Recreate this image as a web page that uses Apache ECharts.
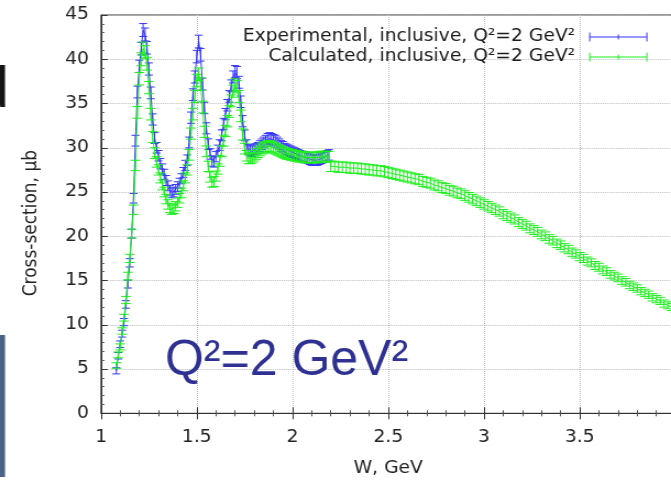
<!DOCTYPE html>
<html>
<head>
<meta charset="utf-8">
<script src="https://cdn.jsdelivr.net/npm/echarts@6/dist/echarts.min.js"></script>
<style>
  html, body { margin: 0; padding: 0; background: #fff; overflow: hidden; }
  /* the plot is drawn 10% narrower and widened horizontally, as on the slide */
  #chart { width: 610px; height: 480px; transform: scaleX(1.1); transform-origin: 0 0; }
</style>
</head>
<body>
<div id="chart"></div>
<script>
// W grid of the resonance region (GeV)
const wRes = [
  1.08, 1.09,
  1.10, 1.11, 1.12, 1.13, 1.14, 1.15, 1.16, 1.17, 1.18, 1.19,
  1.20, 1.21, 1.22, 1.23, 1.24, 1.25, 1.26, 1.27, 1.28, 1.29,
  1.30, 1.31, 1.32, 1.33, 1.34, 1.35, 1.36, 1.37, 1.38, 1.39,
  1.40, 1.41, 1.42, 1.43, 1.44, 1.45, 1.46, 1.47, 1.48, 1.49,
  1.50, 1.51, 1.52, 1.53, 1.54, 1.55, 1.56, 1.57, 1.58, 1.59,
  1.60, 1.61, 1.62, 1.63, 1.64, 1.65, 1.66, 1.67, 1.68, 1.69,
  1.70, 1.71, 1.72, 1.73, 1.74, 1.75, 1.76, 1.77, 1.78, 1.79,
  1.80, 1.81, 1.82, 1.83, 1.84, 1.85, 1.86, 1.87, 1.88, 1.89,
  1.90, 1.91, 1.92, 1.93, 1.94, 1.95, 1.96, 1.97, 1.98, 1.99,
  2.00, 2.01, 2.02, 2.03, 2.04, 2.05, 2.06, 2.07, 2.08, 2.09,
  2.10, 2.11, 2.12, 2.13, 2.14, 2.15, 2.16, 2.17, 2.18, 2.19
];

// Experimental inclusive cross-section, Q^2 = 2 GeV^2 (microbarn)
const expRes = [
  4.8, 6.5,
  7.8, 9.0, 10.3, 12.3, 14.6, 17.0, 20.3, 24.3, 30.8, 36.3,
  39.2, 41.2, 43.3, 42.8, 41.3, 38.9, 36.2, 33.2, 31.1, 30.0,
  29.1, 28.2, 27.6, 27.0, 26.3, 25.7, 25.2, 24.9, 25.0, 25.3,
  25.6, 26.0, 26.5, 27.2, 28.0, 28.6, 30.6, 33.4, 36.0, 38.0,
  40.3, 42.0, 40.5, 37.2, 34.5, 32.2, 30.4, 29.3, 28.5, 28.4,
  29.0, 29.7, 30.3, 31.4, 32.7, 33.8, 34.8, 35.8, 37.0, 38.0,
  38.6, 38.5, 37.4, 35.2, 33.0, 31.4, 30.3, 29.8, 29.7, 29.6,
  29.8, 29.9, 30.0, 30.2, 30.4, 30.6, 30.8, 31.0, 31.1, 31.0,
  30.9, 30.8, 30.6, 30.4, 30.2, 30.1, 29.9, 29.8, 29.7, 29.6,
  29.5, 29.4, 29.3, 29.2, 29.1, 29.0, 29.0, 28.9, 28.8, 28.7,
  28.6, 28.6, 28.6, 28.6, 28.7, 28.8, 28.9, 29.0, 29.1, 29.2
];

// Calculated inclusive cross-section in the resonance region (microbarn)
const calcRes = [
  5.4, 6.6,
  7.5, 9.3, 10.8, 12.8, 15.5, 17.5, 20.3, 23.0, 28.0, 34.0,
  37.8, 40.0, 41.2, 40.8, 39.5, 36.8, 33.8, 31.2, 29.4, 28.4,
  27.5, 26.6, 25.8, 25.0, 24.2, 23.6, 23.2, 23.0, 23.1, 23.4,
  23.8, 24.3, 24.9, 25.7, 26.6, 27.5, 29.2, 31.6, 33.8, 35.8,
  37.6, 38.3, 37.2, 34.6, 31.8, 29.6, 27.9, 26.7, 26.1, 26.2,
  26.8, 27.6, 28.5, 29.6, 30.8, 31.9, 33.0, 34.1, 35.3, 36.4,
  37.1, 36.9, 35.8, 33.6, 31.5, 29.9, 29.1, 28.8, 28.8, 28.9,
  29.1, 29.3, 29.5, 29.7, 29.9, 30.0, 30.1, 30.2, 30.2, 30.1,
  30.0, 29.9, 29.8, 29.7, 29.6, 29.5, 29.4, 29.3, 29.3, 29.2,
  29.2, 29.1, 29.1, 29.0, 29.0, 29.0, 28.9, 28.9, 28.9, 28.9,
  28.9, 28.9, 28.9, 28.9, 29.0, 29.0, 29.0, 29.0, 29.0, 29.0
];

// W grid above the resonance region (GeV)
const wTail = [
  2.20, 2.22, 2.24, 2.26, 2.28, 2.30, 2.32, 2.34, 2.36, 2.38,
  2.40, 2.42, 2.44, 2.46, 2.48, 2.50, 2.52, 2.54, 2.56, 2.58,
  2.60, 2.62, 2.64, 2.66, 2.68, 2.70, 2.72, 2.74, 2.76, 2.78,
  2.80, 2.82, 2.84, 2.86, 2.88, 2.90, 2.92, 2.94, 2.96, 2.98,
  3.00, 3.02, 3.04, 3.06, 3.08, 3.10, 3.12, 3.14, 3.16, 3.18,
  3.20, 3.22, 3.24, 3.26, 3.28, 3.30, 3.32, 3.34, 3.36, 3.38,
  3.40, 3.42, 3.44, 3.46, 3.48, 3.50, 3.52, 3.54, 3.56, 3.58,
  3.60, 3.62, 3.64, 3.66, 3.68, 3.70, 3.72, 3.74, 3.76, 3.78,
  3.80, 3.82, 3.84, 3.86, 3.88, 3.90, 3.92, 3.94, 3.96, 3.98,
  4.00
];

// Calculated inclusive cross-section above the resonances (microbarn)
const calcTail = [
  27.9, 27.9, 27.8, 27.8, 27.8, 27.7, 27.7, 27.7, 27.6, 27.6,
  27.5, 27.5, 27.4, 27.4, 27.3, 27.2, 27.1, 27.0, 26.9, 26.8,
  26.7, 26.6, 26.5, 26.4, 26.2, 26.1, 26.0, 25.8, 25.7, 25.5,
  25.4, 25.2, 25.1, 24.9, 24.8, 24.6, 24.4, 24.2, 24.0, 23.8,
  23.6, 23.4, 23.2, 23.0, 22.8, 22.5, 22.3, 22.1, 21.9, 21.6,
  21.4, 21.2, 20.9, 20.7, 20.5, 20.2, 20.0, 19.7, 19.5, 19.2,
  19.0, 18.7, 18.5, 18.2, 18.0, 17.7, 17.5, 17.2, 17.0, 16.7,
  16.5, 16.2, 16.0, 15.7, 15.5, 15.3, 15.0, 14.8, 14.5, 14.3,
  14.1, 13.8, 13.6, 13.4, 13.1, 12.9, 12.7, 12.4, 12.2, 12.0,
  11.8
];

// Uncertainty model: absolute floor plus a relative part
const EXP_ERR_ABS = 0.30, EXP_ERR_REL = 0.010;
const CALC_ERR_ABS = 0.25, CALC_ERR_REL = 0.012;

// Axis ticks
const xTicks = { min: 1, max: 4, step: 0.5 };
const yTicks = { min: 0, max: 45, step: 5 };

const EXP_NAME = 'Experimental, inclusive, Q\u00b2=2 GeV\u00b2';
const CALC_NAME = 'Calculated, inclusive, Q\u00b2=2 GeV\u00b2';
const EXP_COLOR = '#3535ff';
const CALC_COLOR = '#1cf01c';
const FONT = '"DejaVu Sans", sans-serif';
const WIDEN = 1.1;   // horizontal widening applied to the whole chart by CSS

const wCalc = wRes.concat(wTail);
const calcAll = calcRes.concat(calcTail);

function points(ws, vs) {
  return ws.map((w, i) => [w, vs[i]]);
}
function bars(ws, vs, abs, rel) {
  return ws.map((w, i) => {
    const e = abs + rel * vs[i];
    return [w, vs[i] - e, vs[i] + e];
  });
}

function errorBars(color, cap) {
  return function (params, api) {
    const x = api.value(0);
    const lo = api.coord([x, api.value(1)]);
    const hi = api.coord([x, api.value(2)]);
    const st = { stroke: color, lineWidth: 1 };
    return {
      type: 'group',
      children: [
        { type: 'line', shape: { x1: hi[0], y1: hi[1], x2: lo[0], y2: lo[1] }, style: st },
        { type: 'line', shape: { x1: hi[0] - cap, y1: hi[1], x2: hi[0] + cap, y2: hi[1] }, style: st },
        { type: 'line', shape: { x1: lo[0] - cap, y1: lo[1], x2: lo[0] + cap, y2: lo[1] }, style: st }
      ]
    };
  };
}

// legend sample: horizontal bar with end caps and a centre tick
const ICON = 'path://M0,0h1v9h-1z M52,0h1v9h-1z M0,4h53v1h-53z M26,2h1v5h-1z';

const axisLabelStyle = { fontFamily: FONT, fontSize: 17, color: '#222' };
const tickStyle = { lineStyle: { color: '#333' } };

const chart = echarts.init(document.getElementById('chart'), null, { renderer: 'canvas' });
chart.setOption({
  animation: false,
  backgroundColor: '#fff',
  grid: {
    left: 91.8, top: 15, width: 522.3, bottom: 66.7,
    outerBoundsMode: 'none', containLabel: false,
    show: true, borderColor: '#333', borderWidth: 1
  },
  legend: {
    orient: 'vertical',
    right: 16.4, top: 22,
    align: 'right',
    itemWidth: 53, itemHeight: 9, itemGap: 0,
    selectedMode: false,
    textStyle: { fontFamily: FONT, fontSize: 17, color: '#1a1a1a', lineHeight: 20, padding: [0, 7.7, 0, 0] },
    data: [
      { name: EXP_NAME, icon: ICON, itemStyle: { color: EXP_COLOR, borderWidth: 0 } },
      { name: CALC_NAME, icon: ICON, itemStyle: { color: CALC_COLOR, borderWidth: 0 } }
    ]
  },
  xAxis: [{
    type: 'value', min: xTicks.min, max: xTicks.max, interval: xTicks.step,
    name: 'W, GeV', nameLocation: 'middle', nameGap: 47,
    nameTextStyle: { fontFamily: FONT, fontSize: 17, color: '#222' },
    axisLine: { show: true, onZero: false, lineStyle: { color: '#333' } },
    axisTick: Object.assign({ inside: true, length: 6 }, tickStyle),
    minorTick: { show: true, splitNumber: 5, length: 3, lineStyle: { color: '#555' } },
    axisLabel: Object.assign({ margin: 16, hideOverlap: false, showMaxLabel: false }, axisLabelStyle),
    splitLine: { show: true, lineStyle: { type: 'dotted', color: '#bdbdbd' } }
  }, {
    type: 'value', position: 'top', min: xTicks.min, max: xTicks.max, interval: xTicks.step,
    axisLine: { show: false },
    axisTick: Object.assign({ inside: true, length: 6 }, tickStyle),
    minorTick: { show: true, splitNumber: 5, length: 3, lineStyle: { color: '#555' } },
    axisLabel: { show: false },
    splitLine: { show: false }
  }],
  yAxis: {
    type: 'value', min: yTicks.min, max: yTicks.max, interval: yTicks.step,
    name: 'Cross-section, \u03bcb', nameLocation: 'middle', nameGap: 55, nameRotate: 90,
    nameTextStyle: { fontFamily: FONT, fontSize: 17, color: '#222', padding: [0, 18, 0, 0] },
    axisLine: { show: true, lineStyle: { color: '#333' } },
    axisTick: Object.assign({ inside: true, length: 6 }, tickStyle),
    minorTick: { show: true, splitNumber: 5, length: 3, lineStyle: { color: '#555' } },
    axisLabel: Object.assign({ margin: 11 }, axisLabelStyle),
    splitLine: { show: true, lineStyle: { type: 'dotted', color: '#bdbdbd' } }
  },
  series: [
    {
      name: EXP_NAME, type: 'line', data: points(wRes, expRes),
      symbol: 'none', itemStyle: { color: EXP_COLOR },
      lineStyle: { color: EXP_COLOR, width: 1 }, z: 2
    },
    {
      name: EXP_NAME, type: 'custom', data: bars(wRes, expRes, EXP_ERR_ABS, EXP_ERR_REL),
      renderItem: errorBars(EXP_COLOR, 3.6), itemStyle: { color: EXP_COLOR },
      encode: { x: 0, y: [1, 2] }, z: 2
    },
    {
      name: CALC_NAME, type: 'line', data: points(wCalc, calcAll),
      symbol: 'none', itemStyle: { color: CALC_COLOR },
      lineStyle: { color: CALC_COLOR, width: 1 }, z: 3
    },
    {
      name: CALC_NAME, type: 'custom', data: bars(wCalc, calcAll, CALC_ERR_ABS, CALC_ERR_REL),
      renderItem: errorBars(CALC_COLOR, 4.4), itemStyle: { color: CALC_COLOR },
      encode: { x: 0, y: [1, 2] }, z: 3
    }
  ],
  graphic: [
    {
      type: 'text', x: 165 / WIDEN, y: 336, scaleX: 1 / WIDEN, z: 10,
      style: { text: 'Q\u00b2=2 GeV\u00b2', font: '50px "Liberation Sans", sans-serif', fill: '#2e3192',
               textAlign: 'left', textVerticalAlign: 'top' }
    },
    {
      type: 'text', x: 9 / WIDEN, y: 120, scaleX: 1 / WIDEN, z: 10,
      style: { text: 'd', font: '58px "Liberation Sans", sans-serif', fill: '#141414',
               textAlign: 'right', textVerticalAlign: 'bottom' }
    },
    {
      type: 'rect', shape: { x: 0, y: 335, width: 5 / WIDEN, height: 142 }, z: 10,
      style: { fill: '#4a6284' }
    }
  ]
});
</script>
</body>
</html>
